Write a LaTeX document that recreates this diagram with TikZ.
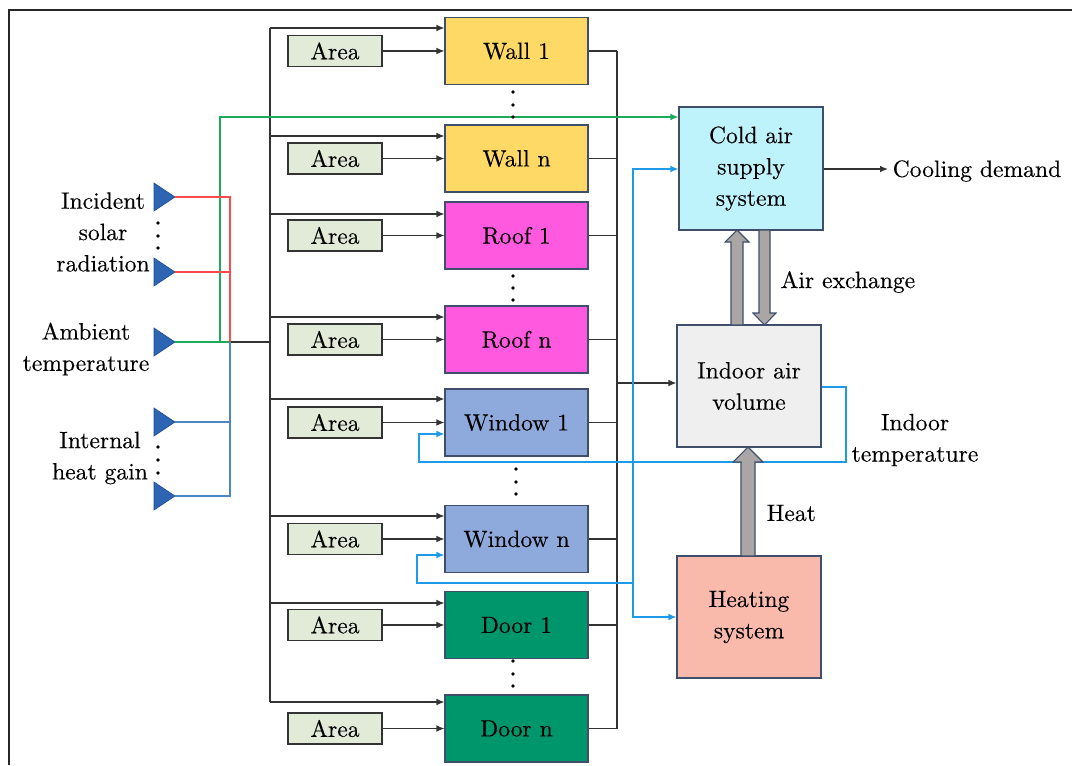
\documentclass[tikz,border=0pt]{standalone}
\usepackage{fontspec}
\setmainfont{lmroman10-regular.otf}[FakeBold=0.25]
\usetikzlibrary{arrows.meta,calc}
\definecolor{wallc}{HTML}{FFD966}
\definecolor{roofc}{HTML}{FF5ADF}
\definecolor{winc}{HTML}{8EA9DB}
\definecolor{doorc}{HTML}{00966B}
\definecolor{areac}{HTML}{E2EBD8}
\definecolor{coldc}{HTML}{BFF3FC}
\definecolor{indoorc}{HTML}{EFEFEF}
\definecolor{heatc}{HTML}{F9B9AB}
\definecolor{bord}{HTML}{3F4E6B}
\definecolor{lineg}{HTML}{333333}
\definecolor{redl}{HTML}{FF4B4B}
\definecolor{greenl}{HTML}{1DAA5A}
\definecolor{steel}{HTML}{4A86C8}
\definecolor{skyl}{HTML}{1E9BE8}
\definecolor{tric}{HTML}{2E64B4}
\definecolor{trid}{HTML}{1F4E8C}
\definecolor{grayarr}{HTML}{ABA6A6}
\begin{document}
\begin{tikzpicture}[x=0.75pt,y=-0.75pt,
  every node/.style={font=\rmfamily\fontsize{17.7}{23.5}\selectfont, text=black},
  comp/.style={draw=bord, line width=0.8pt, minimum width=107.25pt, minimum height=50.25pt, inner sep=0pt},
  areabox/.style={draw=lineg, fill=areac, line width=0.9pt, minimum width=70.5pt, minimum height=23.25pt, inner sep=0pt},
  big/.style={draw=bord, line width=0.8pt, minimum width=108pt, align=center, inner sep=0pt},
  ln/.style={draw=lineg, line width=0.9pt},
  arr/.style={ln, -{Latex[length=6pt,width=5pt]}},
  redw/.style={draw=redl, line width=0.9pt},
  grw/.style={draw=greenl, line width=0.9pt},
  stw/.style={draw=steel, line width=0.9pt},
  skw/.style={draw=skyl, line width=0.9pt},
  skarr/.style={skw, -{Latex[length=6pt,width=5pt]}},
  grarr/.style={grw, -{Latex[length=6pt,width=5pt]}},
  blockarr/.style={draw=bord, fill=grayarr, line width=0.8pt},
  dotc/.style={fill=black},
  lbl/.style={align=center}
]
\useasboundingbox (0,0) rectangle (1072,765);
% frame
\draw[line width=1.8pt, draw=black!85] (9,765) -- (9,10) -- (1072,10);

% component boxes
\node[comp, fill=wallc] (w1) at (516.5,51) {Wall 1};
\node[comp, fill=wallc] (wn) at (516.5,158.5) {Wall n};
\node[comp, fill=roofc] (r1) at (516.5,235.5) {Roof 1};
\node[comp, fill=roofc] (rn) at (516.5,339.5) {Roof n};
\node[comp, fill=winc] (n1) at (516.5,422.5) {Window 1};
\node[comp, fill=winc] (nn) at (516.5,539) {Window n};
\node[comp, fill=doorc] (d1) at (516.5,625) {Door 1};
\node[comp, fill=doorc] (dn) at (516.5,728.5) {Door n};

% area boxes
\foreach \n in {w1,wn,r1,rn,n1,nn,d1,dn}{
  \node[areabox] (a\n) at (335,0 |- \n) {Area};
  \draw[arr] (a\n.east) -- (\n.west);
}

% right boxes
\node[big, fill=coldc, minimum height=92.25pt] (cold) at (751,168.5) {Cold air\\supply\\system};
\node[big, fill=indoorc, minimum height=91.5pt] (indoor) at (749,386) {Indoor air\\volume};
\node[big, fill=heatc, minimum height=91.5pt] (heat) at (749,617) {Heating\\system};

% bus
\draw[ln] (270,28) -- (270,702);
\foreach \n/\y in {w1/28,wn/136,r1/214,rn/317,n1/399,nn/516,d1/603,dn/702}
  \draw[arr] (270,\y) -- (\n.west |- 0,\y);

% collector
\draw[ln] (617,51) -- (617,728.5);
\foreach \n in {w1,wn,r1,rn,n1,nn,d1,dn}
  \draw[ln] (\n.east) -- (\n.east -| 617,0);
\draw[arr] (617,383) -- (indoor.west |- 0,383);

% inputs (triangles)
\foreach \y/\nm in {197/t1,272/t2,342/t3,422/t4,496/t5}{
  \draw[fill=tric, draw=trid, line width=0.5pt] (154,\y-14) -- (175,\y) -- (154,\y+14) -- cycle;
  \coordinate (\nm) at (175,\y);
}
\node[lbl] (lsolar) at (103,232) {Incident\\solar\\radiation};
\node[lbl] (lamb) at (86,349) {Ambient\\temperature};
\node[lbl] (lint) at (100,458) {Internal\\heat gain};

% input wiring
\draw[grw] (t3) -- (230,342);
\draw[ln] (230,342) -- (270,342);
\draw[grarr] (220,342) -- (220,117) -- (cold.west |- 0,117);
\draw[redw] (t1) -- (230,197) -- (230,342);
\draw[redw] (t2) -- (230,272);
\draw[stw] (t4) -- (230,422);
\draw[stw] (t5) -- (230,496) -- (230,342);

% cooling demand
\node[anchor=west] (cool) at (888,171) {Cooling demand};
\draw[arr] (cold.east |- 0,169) -- (cool.west |- 0,169);

% blue feedback
\draw[skarr] (indoor.east |- 0,387) -- (846,387) -- (846,462) -- (419,462) -- (419,434) -- (n1.west |- 0,434);
\draw[skarr] (633,462) -- (633,169) -- (cold.west |- 0,169);
\draw[skarr] (633,462) -- (633,617) -- (heat.west |- 0,617);
\draw[skarr] (633,583) -- (417,583) -- (417,555) -- (nn.west |- 0,555);
\node[lbl] (ltemp) at (915,440) {Indoor\\temperature};

% block arrows
\draw[blockarr] (731,325) -- (731,242) -- (725,242) -- (737,230) -- (749,242) -- (743,242) -- (743,325) -- cycle;
\draw[blockarr] (759,230) -- (759,313) -- (753,313) -- (764.5,325) -- (776,313) -- (770,313) -- (770,230) -- cycle;
\draw[blockarr] (741,556) -- (741,462) -- (733,462) -- (748,447) -- (763,462) -- (755,462) -- (755,556) -- cycle;
\node[anchor=west] (lair) at (776,282) {Air exchange};
\node[anchor=west] (lheat) at (762,513) {Heat};

% dots
\foreach \x/\y in {513/92,513/105,513/117, 513/276,513/288,513/300, 516/469,516/482,516/494, 513/661,513/674,513/686, 158/223,158/236,158/248, 158/447,158/460,158/473}
  \fill[dotc] (\x,\y) circle (1.4pt);
\end{tikzpicture}
\end{document}
